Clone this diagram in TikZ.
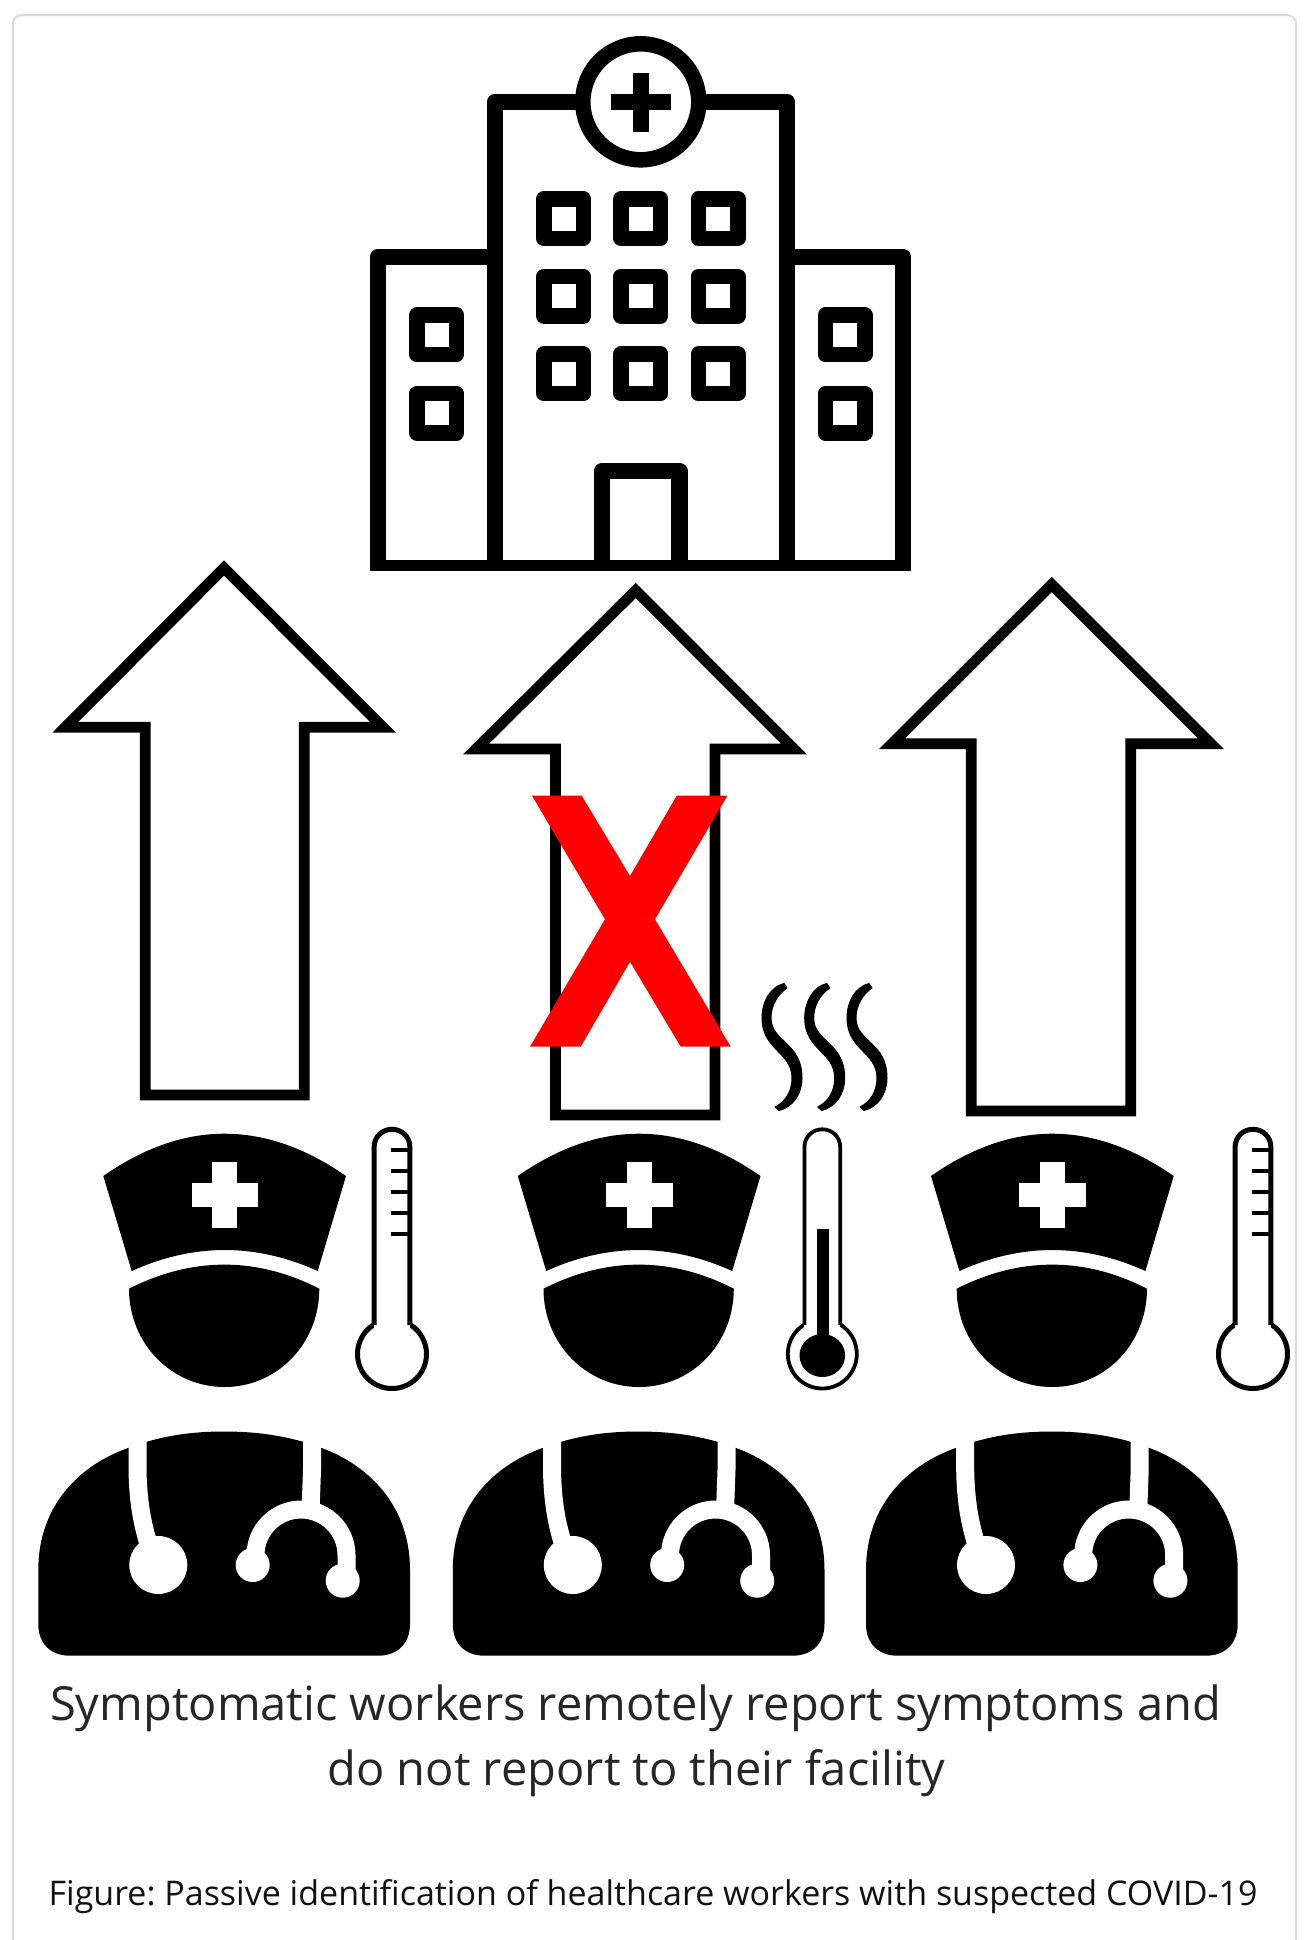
\documentclass[tikz,border=0pt]{standalone}
\usepackage{fontspec}
\setmainfont{Open Sans}
\frenchspacing
\definecolor{framegray}{HTML}{DADADA}
\definecolor{texta}{HTML}{262626}
\definecolor{textb}{HTML}{111111}
\tikzset{
  bld/.style={draw=black,line width=8.1pt,line join=round},
  win/.style={draw=black,fill=white,line width=7.75pt,line join=round},
  arrowbox/.style={draw=black,fill=white,line width=5.4pt,line join=miter,miter limit=10},
  thermline/.style={draw=black,line width=#1,line join=round},
  tick/.style={draw=black,line width=1.9pt},
  steth/.style={draw=white,line width=9pt},
  labela/.style={text=texta,inner sep=0pt,anchor=base,font=\fontsize{23.5pt}{28pt}\selectfont},
  labelb/.style={text=textb,inner sep=0pt,anchor=base,font=\fontsize{17pt}{20pt}\selectfont},
  redx/.style={fill=red},
  steam/.style={fill=black,draw=black,line width=.5pt,line join=round}
}
\newcommand{\wkr}[1]{%
\begin{scope}[shift={(#1,0)}]
  % cap
  \fill[black] (103.3,1176) .. controls (184,1119.6) and (265,1119.6) .. (346,1176)
     -- (317.7,1271) .. controls (255.7,1243) and (193.7,1243) .. (131.7,1271) -- cycle;
  \fill[white] (191.7,1183.4) rectangle (258.3,1207);
  \fill[white] (212,1162) rectangle (237.3,1228.2);
  % face
  \fill[black] (129,1288.7) .. controls (192,1256.6) and (257,1256.6) .. (319.3,1288.7)
     .. controls (319.3,1344) and (277,1387) .. (224.5,1387)
     .. controls (172,1387) and (129,1344) .. (129,1288.7) -- cycle;
  % body
  \fill[black] (38.3,1570) .. controls (38.3,1505) and (80,1465) .. (128,1448)
     .. controls (160,1436) and (190,1431.5) .. (224,1431.5)
     .. controls (258,1431.5) and (290,1436) .. (321.7,1448)
     .. controls (368,1465) and (410,1505) .. (410,1570)
     -- (410,1624) .. controls (410,1644) and (397,1655.7) .. (378,1655.7)
     -- (70,1655.7) .. controls (51,1655.7) and (38.3,1644) .. (38.3,1624) -- cycle;
  % stethoscope
  \draw[steth] (137.5,1425) -- (137.5,1470) .. controls (138,1500) and (142,1525) .. (150,1548);
  \fill[white] (158.3,1565) circle[radius=29];
  \draw[steth] (312,1425) -- (312,1470) -- (310.5,1512);
  \draw[steth] (255.5,1565) -- (255.5,1555) .. controls (255.5,1530) and (276,1509.5) .. (301,1509.5)
     .. controls (326,1509.5) and (346.5,1530) .. (346.5,1555) -- (346.5,1580);
  \fill[white] (252.7,1565) circle[radius=17];
  \fill[white] (342.7,1580.7) circle[radius=17];
\end{scope}}
\newcommand{\thm}[2]{% centre x, stroke
\begin{scope}[shift={(#1,0)}]
  \draw[thermline=#2,fill=white] (0,1354) circle[radius=34.5];
  \fill[white] (-17.9,1147) rectangle (17.9,1340);
  \draw[thermline=#2] (-17.9,1325) -- (-17.9,1147)
     .. controls (-17.9,1137) and (-10,1129.3) .. (0,1129.3)
     .. controls (10,1129.3) and (17.9,1137) .. (17.9,1147) -- (17.9,1325);
\end{scope}}
\newcommand{\stm}[1]{%
\begin{scope}[shift={(#1,2)}]
  \filldraw[steam] (784,981.5) .. controls (770,985) and (762,1000) .. (762,1016)
     .. controls (762,1048) and (792,1050) .. (792,1076)
     .. controls (792,1090) and (785,1100) .. (775,1105)
     -- (779,1108.5) .. controls (793,1105) and (802,1092) .. (802,1076)
     .. controls (802,1040) and (771,1040) .. (771,1016)
     .. controls (771,1003) and (778,992) .. (787,986) -- cycle;
\end{scope}}
\begin{document}
\begin{tikzpicture}[x=.5pt,y=-.5pt]
\useasboundingbox (0,0) rectangle (1311,1940);
\fill[white] (0,0) rectangle (1311,1940);
% card frame
\draw[framegray,line width=1pt] (13,1940) -- (13,23) .. controls (13,18) and (18,15) .. (23,15)
   -- (1286,15) .. controls (1291,15) and (1296,18) .. (1296,23) -- (1296,1940);
% hospital
\draw[bld] (378,565) -- (378,256.8) -- (495,256.8);
\draw[bld] (903,565) -- (903,256.8) -- (787,256.8);
\draw[bld] (495,565) -- (495,101.8) -- (787,101.8) -- (787,565);
\draw[bld] (602,565) -- (602,471) -- (679.5,471) -- (679.5,565);
\fill[black] (370,560) rectangle (911,571);
\draw[bld,fill=white,line width=7.75pt] (640.8,101.8) circle[radius=58];
\fill[black] (611,93.5) rectangle (670.6,110);
\fill[black] (632.5,72.7) rectangle (649,131.6);
\foreach \wx in {563.5,640.8,718}
  \foreach \wy in {218.5,296.2,373.9}
    \draw[win] (\wx-19.75,\wy-19.75) rectangle (\wx+19.75,\wy+19.75);
\foreach \wx in {436.8,845}
  \foreach \wy in {334.9,413.3}
    \draw[win] (\wx-19.75,\wy-19.75) rectangle (\wx+19.75,\wy+19.75);
% arrows
\draw[arrowbox] (224,568) -- (383,727.3) -- (304.3,727.3) -- (304.3,1095) -- (145.3,1095) -- (145.3,727.3) -- (65.3,727.3) -- cycle;
\draw[arrowbox] (635.7,590.5) -- (794,749) -- (715,749) -- (715,1115) -- (555.5,1115) -- (555.5,749) -- (476,749) -- cycle;
\draw[arrowbox] (1051.7,584.5) -- (1211,743.7) -- (1130.8,743.7) -- (1130.8,1111) -- (971.3,1111) -- (971.3,743.7) -- (892,743.7) -- cycle;
% red cross
\fill[redx] (532,795.7) -- (581.7,795.7) -- (630,876) -- (676.7,795.7) -- (727.3,795.7)
   -- (655,919.3) -- (730.7,1046.7) -- (680.7,1046.7) -- (630,961.7) -- (580.7,1046.7) -- (530,1046.7) -- (605,919.3) -- cycle;
% steam
\stm{0}\stm{42.7}\stm{85}
% workers
\wkr{0}\wkr{414.5}\wkr{827.7}
% thermometers
\thm{392}{2.5pt}
\thm{1253}{2.5pt}
\thm{822.3}{1.9pt}
\foreach \tx/\ty in {0/1149.8,0/1170.8,0/1192.2,0/1213.3,0/1234,861/1150,861/1170.7,861/1192.3,861/1213.3,861/1234}
  \draw[tick] (\tx+390.7,\ty) -- (\tx+410,\ty);
\fill[black] (816.7,1229.3) rectangle (829,1350);
\fill[black] (822.3,1355.5) ellipse[x radius=22.8,y radius=21.5];
% texts
\node[labela] (linea) at (635.5,1720) {Symptomatic workers remotely report symptoms and};
\node[labela] (lineb) at (636.5,1785) {do not report to their facility};
\node[labelb] (caption) at (653,1905) {Figure: Passive identification of healthcare workers with suspected COVID-19};
\end{tikzpicture}
\end{document}
